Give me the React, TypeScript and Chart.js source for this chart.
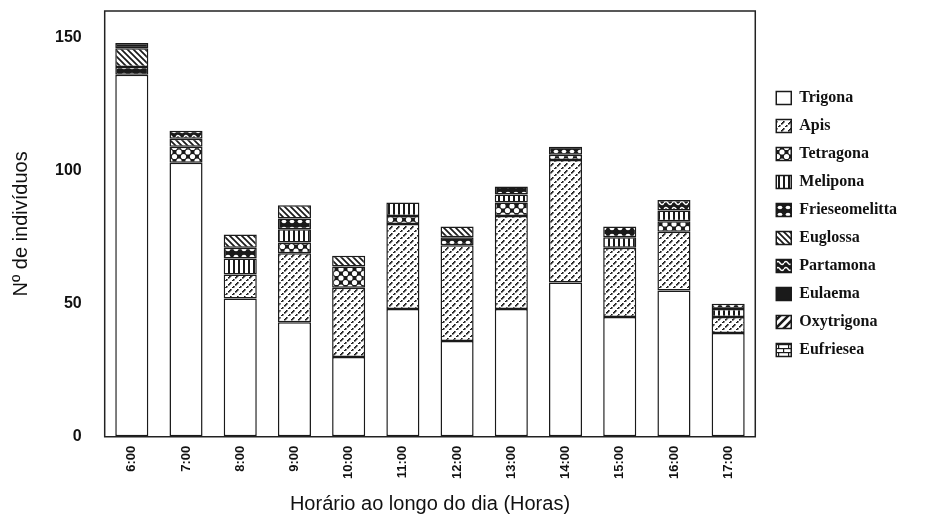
import React, { useEffect, useRef } from "react";
import { Chart, registerables } from "chart.js";

Chart.register(...registerables);

const hours = ["6:00", "7:00", "8:00", "9:00", "10:00", "11:00", "12:00", "13:00", "14:00", "15:00", "16:00", "17:00"];
const trigona = [136, 103, 52, 43, 30, 48, 36, 48, 58, 45, 55, 39];
const apis = [0, 0, 9, 26, 26, 32, 36, 35, 46, 26, 22, 6];
const tetragona = [0, 6, 0, 4, 8, 3, 0, 5, 2, 0, 4, 0];
const melipona = [0, 0, 6, 5, 0, 5, 0, 3, 0, 4, 4, 3];
const frieseomelitta = [3, 0, 4, 4, 0, 0, 3, 3, 3, 4, 0, 2];
const euglossa = [7, 3, 5, 5, 4, 0, 4, 0, 0, 0, 0, 0];
const partamona = [0, 3, 0, 0, 0, 0, 0, 0, 0, 0, 4, 0];
const eulaema = [2, 0, 0, 0, 0, 0, 0, 0, 0, 0, 0, 0];
const oxytrigona = [0, 0, 0, 0, 0, 0, 0, 0, 0, 0, 0, 0];
const eufriesea = [0, 0, 0, 0, 0, 0, 0, 0, 0, 0, 0, 0];
const yTicks = [0, 50, 100, 150];
const yMax = 160;

type Painter = (c: CanvasRenderingContext2D, w: number, h: number) => void;

function makePattern(w: number, h: number, paint: Painter): CanvasPattern | string {
  const cv = document.createElement("canvas");
  cv.width = w;
  cv.height = h;
  const c = cv.getContext("2d");
  if (!c) return "#fff";
  paint(c, w, h);
  const ctx = document.createElement("canvas").getContext("2d");
  return (ctx && ctx.createPattern(cv, "repeat")) || "#fff";
}

function buildPatterns() {
  const ink = "#1a1a1a";
  const apisP = makePattern(7, 7, (c) => {
    c.fillStyle = "#fff";
    c.fillRect(0, 0, 7, 7);
    c.fillStyle = ink;
    [0, 1, 3, 4, 5].forEach((i) => c.fillRect(i, 6 - i, 1.6, 1.6));
  });
  const tetraP = makePattern(9, 9, (c) => {
    c.fillStyle = ink;
    c.fillRect(0, 0, 9, 9);
    c.fillStyle = "#fff";
    [[0, 0], [9, 0], [0, 9], [9, 9], [4.5, 4.5]].forEach(([x, y]) => {
      c.beginPath();
      c.arc(x, y, 2.6, 0, Math.PI * 2);
      c.fill();
    });
  });
  const meliP = makePattern(5, 6, (c) => {
    c.fillStyle = "#fff";
    c.fillRect(0, 0, 5, 6);
    c.fillStyle = ink;
    c.fillRect(0, 0, 2, 6);
  });
  const friesP = makePattern(8, 7, (c) => {
    c.fillStyle = ink;
    c.fillRect(0, 0, 8, 7);
    c.fillStyle = "#fff";
    c.beginPath();
    c.ellipse(4, 3.5, 2.4, 1.8, 0, 0, Math.PI * 2);
    c.fill();
  });
  const eugP = makePattern(6, 6, (c) => {
    c.fillStyle = "#fff";
    c.fillRect(0, 0, 6, 6);
    c.strokeStyle = ink;
    c.lineWidth = 1.7;
    c.beginPath();
    c.moveTo(-1, -1);
    c.lineTo(7, 7);
    c.moveTo(-1, 5);
    c.lineTo(1, 7);
    c.moveTo(5, -1);
    c.lineTo(7, 1);
    c.stroke();
  });
  const partP = makePattern(8, 6, (c) => {
    c.fillStyle = ink;
    c.fillRect(0, 0, 8, 6);
    c.strokeStyle = "#fff";
    c.lineWidth = 1.4;
    c.beginPath();
    c.moveTo(0, 3);
    c.quadraticCurveTo(2, 0, 4, 3);
    c.quadraticCurveTo(6, 6, 8, 3);
    c.stroke();
  });
  const oxyP = makePattern(8, 8, (c) => {
    c.fillStyle = "#fff";
    c.fillRect(0, 0, 8, 8);
    c.strokeStyle = ink;
    c.lineWidth = 2.6;
    c.beginPath();
    c.moveTo(-1, 9);
    c.lineTo(9, -1);
    c.moveTo(-1, 1);
    c.lineTo(1, -1);
    c.moveTo(7, 9);
    c.lineTo(9, 7);
    c.stroke();
  });
  const eufP = makePattern(10, 8, (c) => {
    c.fillStyle = "#fff";
    c.fillRect(0, 0, 10, 8);
    c.fillStyle = ink;
    c.fillRect(0, 0, 10, 1.2);
    c.fillRect(0, 4, 10, 1.2);
    c.fillRect(0, 0, 1.2, 4);
    c.fillRect(5, 4, 1.2, 4);
  });
  return { apisP, tetraP, meliP, friesP, eugP, partP, oxyP, eufP, ink };
}

const nz = (arr: number[]) => arr.map((v) => (v === 0 ? null : v));

export default function App() {
  const ref = useRef<HTMLCanvasElement | null>(null);

  useEffect(() => {
    if (!ref.current) return;
    const p = buildPatterns();
    const series: [string, number[], any][] = [
      ["Trigona", trigona, "#ffffff"],
      ["Apis", apis, p.apisP],
      ["Tetragona", tetragona, p.tetraP],
      ["Melipona", melipona, p.meliP],
      ["Frieseomelitta", frieseomelitta, p.friesP],
      ["Euglossa", euglossa, p.eugP],
      ["Partamona", partamona, p.partP],
      ["Eulaema", eulaema, p.ink],
      ["Oxytrigona", oxytrigona, p.oxyP],
      ["Eufriesea", eufriesea, p.eufP],
    ];

    const framePlugin = {
      id: "frame",
      afterDraw(chart: any) {
        const { ctx, chartArea: a } = chart;
        ctx.save();
        ctx.strokeStyle = "#222";
        ctx.lineWidth = 1.5;
        ctx.strokeRect(a.left, a.top, a.right - a.left, a.bottom - a.top);
        ctx.restore();
      },
    };

    const chart = new Chart(ref.current, {
      type: "bar",
      data: {
        labels: hours,
        datasets: series.map(([label, data, bg]) => ({
          label,
          data: nz(data),
          backgroundColor: bg,
          borderColor: "#1a1a1a",
          borderWidth: 1.5,
          borderSkipped: false,
          barPercentage: 0.61,
          categoryPercentage: 1,
        })),
      },
      options: {
        animation: false,
        responsive: false,
        maintainAspectRatio: false,
        layout: { padding: { top: 3, right: 21, left: 0, bottom: 0 } },
        plugins: {
          tooltip: { enabled: false },
          legend: {
            position: "right",
            align: "center",
            fullSize: false,
            labels: {
              font: { family: "Liberation Serif", weight: "bold", size: 16 },
              color: "#111",
              boxWidth: 15,
              boxHeight: 13,
              padding: 12,
            },
          },
        },
        scales: {
          x: {
            stacked: true,
            grid: { display: false, drawTicks: false },
            border: { display: false },
            ticks: {
              maxRotation: 90,
              minRotation: 90,
              padding: 9,
              color: "#111",
              font: { family: "Liberation Sans", weight: "bold", size: 13 },
            },
            title: {
              display: true,
              text: "Horário ao longo do dia (Horas)",
              color: "#111",
              font: { family: "Liberation Sans", size: 20, lineHeight: 1 },
              padding: { top: 6, bottom: 0 },
            },
          },
          y: {
            stacked: true,
            min: 0,
            max: yMax,
            grid: {
              display: true,
              drawOnChartArea: false,
              drawTicks: true,
              tickLength: 23,
              color: "rgba(0,0,0,0)",
            },
            border: { display: false },
            afterBuildTicks: (axis: any) => {
              axis.ticks = yTicks.map((v) => ({ value: v }));
            },
            ticks: {
              padding: 0,
              color: "#111",
              font: { family: "Liberation Sans", weight: "bold", size: 16, lineHeight: 0.3 },
            },
            title: {
              display: true,
              text: "Nº de indivíduos",
              color: "#111",
              font: { family: "Liberation Sans", size: 20 },
              padding: { top: 1, bottom: 22 },
            },
          },
          y2: {
            position: "right",
            display: true,
            grid: { display: false, drawTicks: false },
            border: { display: false },
            ticks: { display: false },
            afterFit: (s: any) => {
              s.width = 9;
            },
          },
        },
      },
      plugins: [framePlugin],
    } as any);

    return () => chart.destroy();
  }, []);

  return (
    <div style={{ width: 920, height: 506 }}>
      <canvas ref={ref} width={920} height={506} style={{ display: "block" }} />
    </div>
  );
}
